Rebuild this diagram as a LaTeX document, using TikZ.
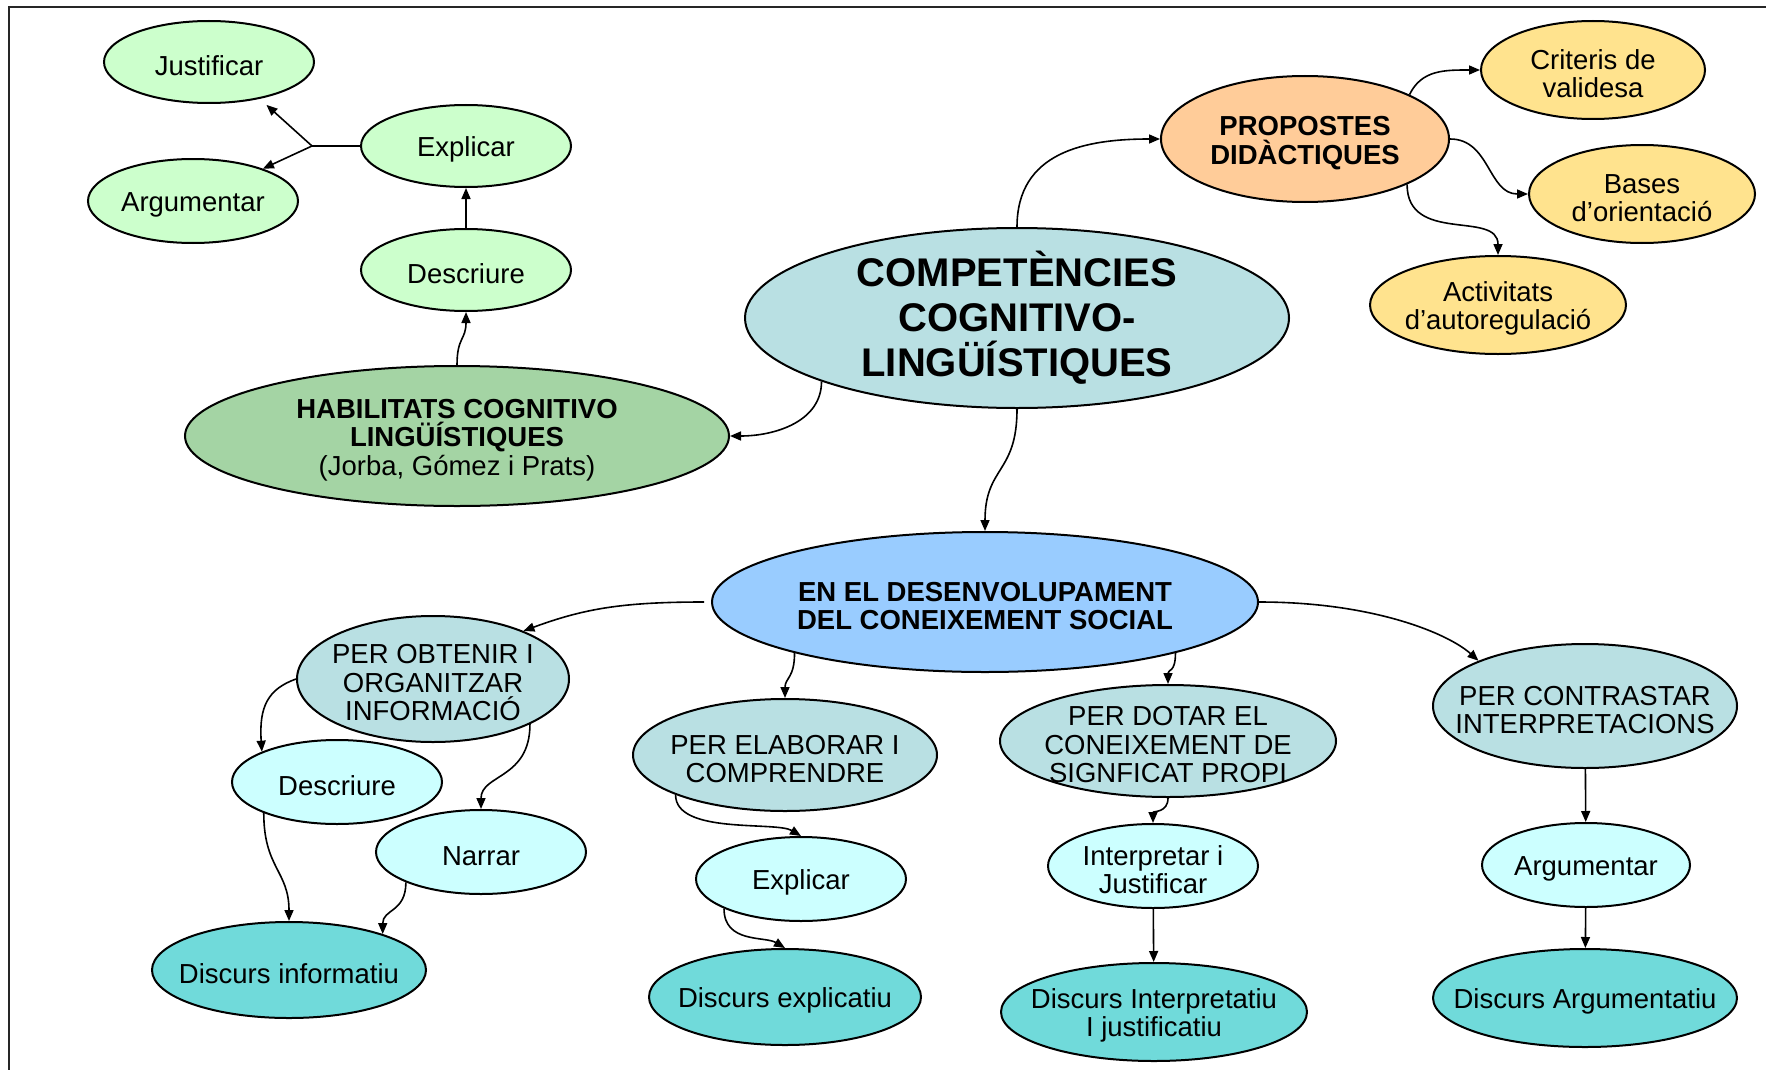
\documentclass[tikz,border=0pt]{standalone}
\usepackage{fontspec}
\setmainfont{Liberation Sans}
\usetikzlibrary{shapes.geometric,arrows.meta}

\definecolor{lgreen}{HTML}{CCFFCC}
\definecolor{mgreen}{HTML}{A4D4A4}
\definecolor{grayblue}{HTML}{B9E0E3}
\definecolor{peach}{HTML}{FFCC99}
\definecolor{lyellow}{HTML}{FFE38E}
\definecolor{skyblue}{HTML}{99CCFF}
\definecolor{lcyan}{HTML}{CCFFFF}
\definecolor{mcyan}{HTML}{70DADA}

\newcommand\nodefont{\fontsize{27.5}{28.5}\selectfont}
\newcommand\bigfont{\fontsize{40}{45}\selectfont\bfseries}
% taller first line, so the text sits a little low in its ellipse
\newcommand\topstrut{\rule{0pt}{27pt}}

% ellipse whose size is fixed by the two arguments (full width, full height);
% the negative inner sep keeps the text from enlarging it
\tikzset{
  bub/.style 2 args={ellipse, draw=black, line width=2pt, inner sep=-600pt,
    minimum width=#1pt, minimum height=#2pt, align=center, font=\nodefont,
    text=black, execute at begin node={\topstrut}},
  arr/.style={line width=1.6pt, -{Triangle[length=11pt,width=9pt]}},
  conn/.style={line width=1.6pt},
}

\begin{document}
\begin{tikzpicture}[x=1pt,y=-1pt]
\useasboundingbox (0,0) rectangle (1766,1070);

% frame
\draw[line width=2pt, black!85] (9,1072) -- (9,7) -- (1768,7);

% upper left: cognitive-linguistic skills
\node[bub={210}{82}, fill=lgreen] (just) at (209,62) {Justificar};
\node[bub={210}{82}, fill=lgreen] (expl1) at (466,146) {Explicar};
\node[bub={210}{84}, fill=lgreen] (argu1) at (193,201) {Argumentar};
\node[bub={210}{82}, fill=lgreen] (desc1) at (466,270) {Descriure};
\node[bub={544}{140}, fill=mgreen] (habil) at (457,436)
  {\topstrut\textbf{HABILITATS COGNITIVO}\\\textbf{LINGÜÍSTIQUES}\\(Jorba, Gómez i Prats)};

% centre
\node[bub={544}{180}, fill=grayblue, font=\bigfont] (comp) at (1017,318)
  {COMPETÈNCIES\\COGNITIVO-\\LINGÜÍSTIQUES};

% upper right: didactic proposals
\node[bub={288}{126}, fill=peach, font=\nodefont\bfseries] (prop) at (1305,139)
  {\topstrut PROPOSTES\\DIDÀCTIQUES};
\node[bub={224}{98}, fill=lyellow] (crit) at (1593,70) {\topstrut Criteris de\\validesa};
\node[bub={226}{98}, fill=lyellow] (bases) at (1642,194) {\topstrut Bases\\d’orientació};
\node[bub={256}{98}, fill=lyellow] (activ) at (1498,305) {\topstrut Activitats\\d’autoregulació};

% lower half: social knowledge
\node[bub={546}{140}, fill=skyblue, font=\nodefont\bfseries] (desen) at (985,602)
  {\topstrut EN EL DESENVOLUPAMENT\\DEL CONEIXEMENT SOCIAL};

\node[bub={272}{126}, fill=grayblue] (obten) at (433,679)
  {\topstrut PER OBTENIR I\\ORGANITZAR\\INFORMACIÓ};
\node[bub={210}{84}, fill=lcyan] (desc2) at (337,782) {Descriure};
\node[bub={210}{84}, fill=lcyan] (narr) at (481,852) {Narrar};
\node[bub={274}{96}, fill=mcyan] (dinf) at (289,970) {Discurs informatiu};

\node[bub={304}{112}, fill=grayblue] (elab) at (785,755)
  {\topstrut PER ELABORAR I\\COMPRENDRE};
\node[bub={210}{84}, fill=lcyan] (expl2) at (801,879) {Explicar};
\node[bub={272}{96}, fill=mcyan] (dexp) at (785,997) {Discurs explicatiu};

\node[bub={336}{112}, fill=grayblue] (dotar) at (1168,741)
  {\topstrut PER DOTAR EL\\CONEIXEMENT DE\\SIGNFICAT PROPI};
\node[bub={210}{84}, fill=lcyan] (interp) at (1153,866) {\topstrut Interpretar i\\Justificar};
\node[bub={306}{98}, fill=mcyan] (dint) at (1154,1012)
  {\topstrut Discurs Interpretatiu\\I justificatiu};

\node[bub={304}{124}, fill=grayblue] (contr) at (1585,706)
  {\topstrut PER CONTRASTAR\\INTERPRETACIONS};
\node[bub={208}{84}, fill=lcyan] (argu2) at (1586,865) {Argumentar};
\node[bub={304}{98}, fill=mcyan] (darg) at (1585,998) {Discurs Argumentatiu};

% connectors, upper left
\coordinate (fork) at (312,146);
\draw[conn] (expl1.west) -- (fork);
\draw[arr, shorten >=9pt] (fork) -- (just.-36);
\draw[arr] (fork) -- (argu1);
\draw[arr] (desc1) -- (expl1);
\draw[arr] (habil.north) .. controls +(0,-28) and +(0,28) .. (desc1.south);
\draw[arr] (comp.198) .. controls +(0,40) and +(45,0) .. (habil.east);

% connectors, upper right
\draw[arr] (comp.north) .. controls +(0,-75) and +(-75,0) .. (prop.west);
\draw[arr] (prop.23) .. controls +(12,-25) and +(-35,0) .. (crit.west);
\draw[arr] (prop.east) .. controls +(40,0) and +(-40,0) .. (bases.west);
\draw[arr] (prop.-24) .. controls +(0,60) and +(0,-45) .. (activ.north);

% connectors, lower half
\draw[arr] (comp.south) .. controls +(0,65) and +(0,-65) .. (desen.north);
\draw[arr, shorten <=7pt] (desen.west) .. controls +(-90,0) and +(60,-22) .. (obten.28);
\draw[arr] (desen.east) .. controls +(115,0) and +(-30,-27) .. (contr.157);
\draw[arr] (desen.195) .. controls +(0,25) and +(0,-20) .. (elab.north);
\draw[arr] (desen.345) .. controls +(0,20) and +(0,-15) .. (dotar.north);

\draw[arr] (obten.west) .. controls +(-28,10) and +(-3,-45) .. (desc2.158);
\draw[arr] (obten.-25) .. controls +(0,55) and +(0,-35) .. (narr.north);
\draw[arr] (desc2.203) .. controls +(0,55) and +(0,-50) .. (dinf.north);
\draw[arr] (narr.202) .. controls +(0,30) and +(0,-25) .. (dinf.21);

\draw[arr] (elab.200) .. controls +(0,40) and +(-25,-15) .. (expl2.north);
\draw[arr] (expl2.201) .. controls +(0,35) and +(-20,-12) .. (dexp.north);

\draw[arr] (dotar.south) .. controls +(0,15) and +(0,-12) .. (interp.north);
\draw[arr] (interp) -- (dint);

\draw[arr] (contr) -- (argu2);
\draw[arr] (argu2) -- (darg);
\end{tikzpicture}
\end{document}
